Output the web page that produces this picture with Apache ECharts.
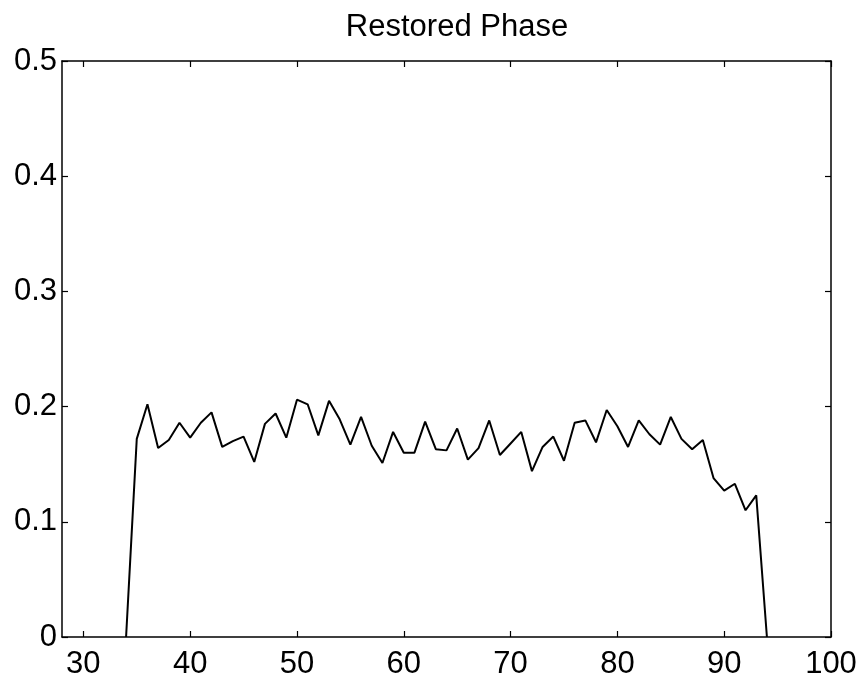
<!DOCTYPE html>
<html>
<head>
<meta charset="utf-8">
<script src="https://cdn.jsdelivr.net/npm/echarts@6/dist/echarts.min.js"></script>
<style>
    html, body { margin: 0; padding: 0; background: #fff; }
    #chart { width: 861px; height: 691px; }
</style>
</head>
<body>
<div id="chart"></div>
<script>
// values
const xVals = [34, 35, 36, 37, 38, 39, 40, 41, 42, 43, 44, 45, 46, 47, 48, 49, 50, 51, 52, 53, 54,
    55, 56, 57, 58, 59, 60, 61, 62, 63, 64, 65, 66, 67, 68, 69, 70, 71, 72, 73, 74,
    75, 76, 77, 78, 79, 80, 81, 82, 83, 84, 85, 86, 87, 88, 89, 90, 91, 92, 93, 94];
const phase = [0, 0.172, 0.202, 0.164, 0.171, 0.186, 0.173, 0.186, 0.195, 0.165, 0.170, 0.174, 0.152, 0.185, 0.194, 0.173, 0.206, 0.202, 0.175, 0.205, 0.189,
    0.167, 0.191, 0.166, 0.151, 0.178, 0.160, 0.160, 0.187, 0.163, 0.162, 0.181, 0.154, 0.164, 0.188, 0.158, 0.168, 0.178, 0.144, 0.165, 0.174,
    0.153, 0.186, 0.188, 0.169, 0.197, 0.183, 0.165, 0.188, 0.176, 0.167, 0.191, 0.172, 0.163, 0.171, 0.138, 0.127, 0.133, 0.110, 0.123, 0];
const xTicks = [30, 40, 50, 60, 70, 80, 90, 100];

const chart = echarts.init(document.getElementById('chart'));
const font = 'Liberation Sans, Arial, Helvetica, sans-serif';
const axisLine = { show: true, onZero: false, lineStyle: { color: '#000', width: 1.5 } };

chart.setOption({
    backgroundColor: '#fff',
    animation: false,
    title: {
        text: 'Restored Phase',
        left: 452,
        textAlign: 'center',
        top: 7,
        textStyle: { fontFamily: font, fontSize: 31, fontWeight: 'normal', color: '#000' }
    },
    grid: { left: 62, right: 30, top: 61, bottom: 54 },
    xAxis: [{
        type: 'value',
        min: 28,
        max: 100,
        axisLine: axisLine,
        axisTick: { inside: true, length: 6, customValues: xTicks, lineStyle: { color: '#000', width: 1.2 } },
        axisLabel: { customValues: xTicks, margin: 12, fontFamily: font, fontSize: 31, color: '#000' },
        splitLine: { show: false }
    }, {
        type: 'value',
        position: 'top',
        min: 28,
        max: 100,
        axisLine: axisLine,
        axisTick: { inside: true, length: 6, customValues: xTicks, lineStyle: { color: '#000', width: 1.2 } },
        axisLabel: { show: false },
        splitLine: { show: false }
    }],
    yAxis: [{
        type: 'value',
        min: 0,
        max: 0.5,
        interval: 0.1,
        axisLine: axisLine,
        axisTick: { show: true, inside: true, length: 6, lineStyle: { color: '#000', width: 1.2 } },
        axisLabel: { margin: 5, fontFamily: font, fontSize: 31, color: '#000' },
        splitLine: { show: false }
    }, {
        type: 'value',
        position: 'right',
        min: 0,
        max: 0.5,
        interval: 0.1,
        axisLine: axisLine,
        axisTick: { show: true, inside: true, length: 6, lineStyle: { color: '#000', width: 1.2 } },
        axisLabel: { show: false },
        splitLine: { show: false }
    }],
    series: [{
        type: 'line',
        data: xVals.map((x, i) => [x, phase[i]]),
        showSymbol: false,
        lineStyle: { color: '#000', width: 2 },
        z: 3
    }]
});
</script>
</body>
</html>
